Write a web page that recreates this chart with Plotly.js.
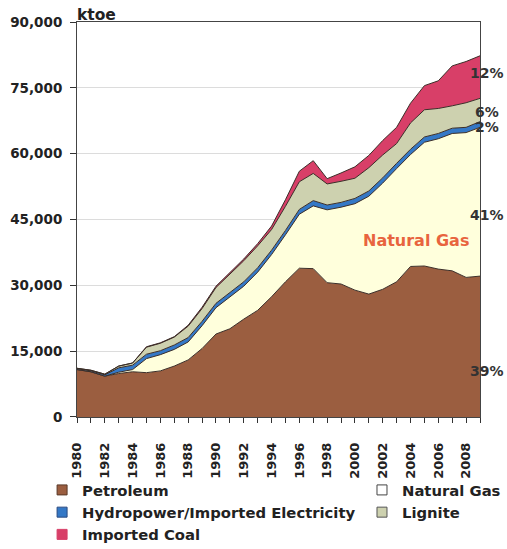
<!DOCTYPE html>
<html><head><meta charset="utf-8">
<script src="https://cdn.plot.ly/plotly-3.0.1.min.js"></script>
<style>html,body{margin:0;padding:0;background:#fff}#chart{width:507px;height:549px}</style>
</head><body><div id="chart"></div>
<script>
// ---- data (ktoe) ----
const years = [1980,1981,1982,1983,1984,1985,1986,1987,1988,1989,1990,1991,1992,1993,1994,1995,1996,1997,1998,1999,2000,2001,2002,2003,2004,2005,2006,2007,2008,2009];
const petroleum    = [10800,10300,9300,9900,10300,10100,10500,11600,13000,15600,18900,20100,22300,24300,27400,30800,33900,33800,30600,30300,28900,28000,29100,30800,34300,34400,33700,33300,31800,32100];
const naturalGas   = [0,0,0,300,500,3200,3700,3800,4100,5200,6000,7300,7500,8700,9600,10700,12300,14300,16600,17500,19700,22300,24200,25800,25500,28200,29700,31300,33000,33900];
const hydropower   = [200,200,300,1000,1000,1000,900,1000,1000,1000,1000,1000,1000,1000,1000,1000,1100,1200,1100,1100,1200,1200,1200,1200,1200,1200,1200,1200,1200,1300];
const lignite      = [100,150,150,400,500,1600,1700,1800,2600,2900,3600,4200,4800,5000,4700,5500,6300,6200,4800,4800,4600,5300,5200,4500,6000,6200,5700,5100,5600,5300];
const importedCoal = [0,0,0,0,0,100,100,100,200,300,300,400,400,500,800,1500,2400,2900,1200,1900,2600,2800,3300,3700,4500,5500,6300,9100,9400,9700];
const seriesNames  = ['Petroleum','Natural Gas','Hydropower/Imported Electricity','Lignite','Imported Coal'];
const shareLabels  = ['39%','41%','2%','6%','12%'];
const xTickYears   = [1980,1982,1984,1986,1988,1990,1992,1994,1996,1998,2000,2002,2004,2006,2008];
const yTickValues  = [0,15000,30000,45000,60000,75000,90000];
const yTickLabels  = ['0','15,000','30,000','45,000','60,000','75,000','90,000'];

// ---- styles ----
const fillColors = ['#9B5E40','#FFFFDC','#3478C6','#CDD1AF','#D83F68'];
const legendColors = ['#9B5E40','#FFFFFF','#3478C6','#CDD1AF','#D83F68'];
const legendLine = ['#5a3a28','#444','#2a4a80','#555','#D83F68'];
const legendGroup = ['legend','legend2','legend','legend2','legend'];
const series = [petroleum, naturalGas, hydropower, lignite, importedCoal];

const traces = [];
series.forEach((vals, i) => {
  traces.push({
    x: years, y: vals, type: 'scatter', mode: 'lines',
    stackgroup: 'one', fillcolor: fillColors[i],
    line: {color: '#3b2e28', width: 1},
    name: seriesNames[i], showlegend: false, hoverinfo: 'skip'
  });
});
series.forEach((vals, i) => {
  traces.push({
    x: [null], y: [null], type: 'scatter', mode: 'markers',
    marker: {symbol: 'square', size: 10, color: legendColors[i], line: {color: legendLine[i], width: 1}},
    name: seriesNames[i], legend: legendGroup[i], showlegend: true
  });
});
// carrier for the year-label axis (no marks)
traces.push({x: [null], y: [null], xaxis: 'x2', yaxis: 'y2', type: 'scatter', mode: 'markers',
  showlegend: false, hoverinfo: 'skip'});

const bold = (size, color) => ({family: 'DejaVu Sans, Verdana, sans-serif', size: size, color: color || '#222', weight: 'bold'});

const lastYear = years[years.length - 1];
const labelY = [10500, 46000, 66100, 69400, 78400];
const annotations = shareLabels.map((t, i) => ({
  x: lastYear, y: labelY[i], xref: 'x', yref: 'y', text: t, showarrow: false,
  xanchor: 'center', xshift: 7, font: bold(14, '#333')
}));
annotations.push({x: 2004.4, y: 40300, xref: 'x', yref: 'y', text: 'Natural Gas', showarrow: false,
  font: bold(16, '#E8643E')});
annotations.push({x: 0, y: 1, xref: 'paper', yref: 'paper', text: 'ktoe', showarrow: false,
  xanchor: 'left', yanchor: 'bottom', yshift: -4, xshift: -2, font: bold(15.5, '#222')});

const legendCommon = {xref: 'container', yref: 'container', xanchor: 'left', yanchor: 'top',
  orientation: 'v', traceorder: 'normal', bgcolor: 'rgba(0,0,0,0)', font: bold(14.8, '#222'),
  itemwidth: 30, tracegroupgap: 0};

const layout = {
  width: 507, height: 549,
  margin: {l: 77, r: 27, t: 22, b: 110, autoexpand: false},
  paper_bgcolor: '#fff', plot_bgcolor: 'rgba(0,0,0,0)',
  showlegend: true,
  xaxis: {
    range: [1980, 2009], tickmode: 'array', tickvals: xTickYears, showticklabels: false,
    ticks: 'outside', ticklen: 5, tickcolor: '#333',
    minor: {dtick: 1, tick0: 1981, ticks: 'outside', ticklen: 5, tickcolor: '#333'},
    showgrid: false, zeroline: false, automargin: false,
    showline: true, linecolor: '#444', linewidth: 1, mirror: true, fixedrange: true
  },
  xaxis2: {
    range: [1980, 2009], anchor: 'y2', domain: [0, 1],
    tickmode: 'array', tickvals: xTickYears, ticktext: xTickYears.map(String),
    tickangle: -90, ticks: '', showline: false, showgrid: false, zeroline: false, automargin: false,
    tickfont: bold(13, '#222'), fixedrange: true
  },
  yaxis: {
    domain: [0.0528, 1],
    range: [0, 90000], tickmode: 'array', tickvals: yTickValues, ticktext: yTickLabels,
    ticks: 'outside', ticklen: 6, tickcolor: '#333', ticklabelstandoff: 5,
    showgrid: true, gridcolor: '#dcdcdc', gridwidth: 1, zeroline: false, automargin: false,
    showline: true, linecolor: '#444', linewidth: 1, mirror: true,
    tickfont: bold(13.5, '#222'), fixedrange: true
  },
  yaxis2: {domain: [0, 0.02], anchor: 'x2', visible: false, fixedrange: true},
  legend: Object.assign({}, legendCommon, {x: 0.083, y: 0.137}),
  legend2: Object.assign({}, legendCommon, {x: 0.714, y: 0.137}),
  annotations: annotations
};

Plotly.newPlot('chart', traces, layout, {displayModeBar: false, staticPlot: true});
</script>
</body></html>
